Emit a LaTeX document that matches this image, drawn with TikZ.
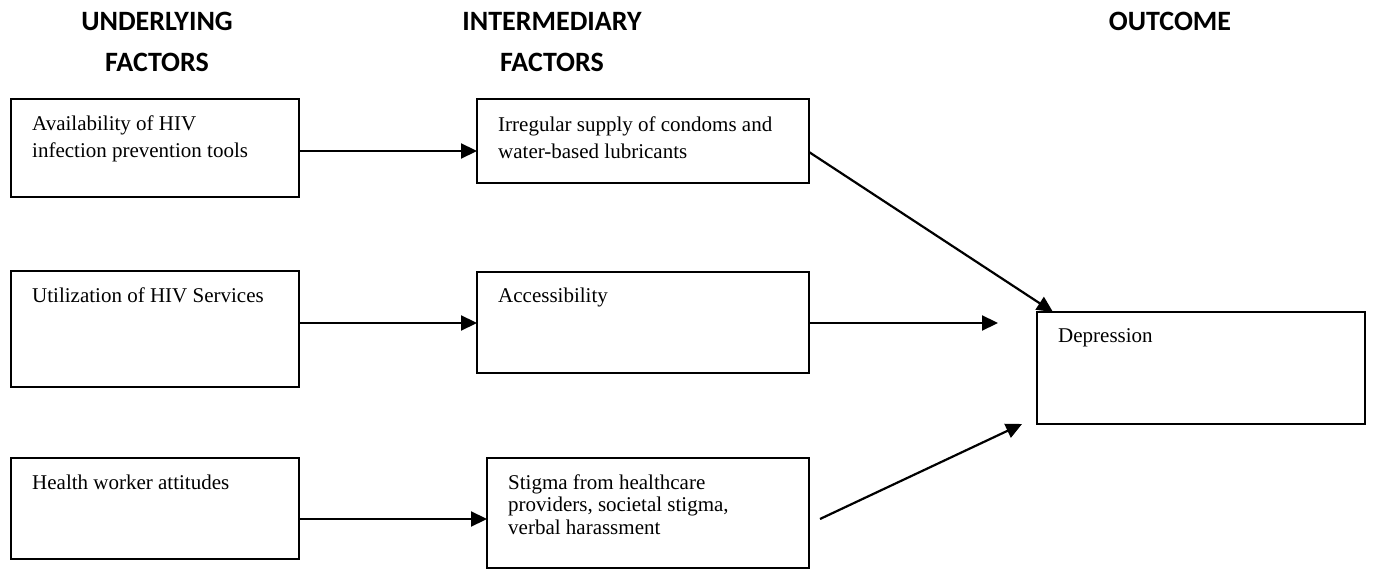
\documentclass[tikz,border=0pt]{standalone}
\usepackage{fontspec}
\setmainfont{Liberation Serif}
\newfontfamily\hdrfont{Carlito}
\usetikzlibrary{arrows.meta,calc}
\begin{document}
\begin{tikzpicture}[x=1pt,y=-1pt,
  box/.style={draw,line width=1.9pt,rectangle,anchor=north west,inner sep=0pt,outer sep=0pt},
  txt/.style={anchor=base west,inner sep=0pt,font=\fontsize{21}{25}\selectfont},
  hdr/.style={anchor=base,inner sep=0pt,font=\hdrfont\bfseries\fontsize{28}{34}\selectfont},
  arr/.style={line width=2.2pt,-{Triangle[length=16pt,width=15pt]}}]
\useasboundingbox (0,0) rectangle (1374,569);

% headers
\node[hdr] (h1a) at (157,31) {UNDERLYING};
\node[hdr] (h1b) at (157,72) {FACTORS};
\node[hdr] (h2a) at (552,31) {INTERMEDIARY};
\node[hdr] (h2b) at (552,72) {FACTORS};
\node[hdr] (h3a) at (1170,31) {OUTCOME};

% boxes
\node[box,minimum width=288pt,minimum height=98pt] (a1) at (11,99) {};
\node[box,minimum width=288pt,minimum height=116pt] (a2) at (11,271) {};
\node[box,minimum width=288pt,minimum height=101pt] (a3) at (11,458) {};
\node[box,minimum width=332pt,minimum height=84pt] (b1) at (477,99) {};
\node[box,minimum width=332pt,minimum height=101pt] (b2) at (477,272) {};
\node[box,minimum width=322pt,minimum height=110pt] (b3) at (487,458) {};
\node[box,minimum width=328pt,minimum height=112pt] (dep) at (1037,312) {};

% texts
\node[txt] (a1t1) at (32,131) {Availability of HIV};
\node[txt] (a1t2) at (32,158) {infection prevention tools};
\node[txt] (b1t1) at (498,132) {Irregular supply of condoms and};
\node[txt] (b1t2) at (498,159) {water-based lubricants};
\node[txt] (a2t1) at (32,303) {Utilization of HIV Services};
\node[txt] (b2t1) at (498,303) {Accessibility};
\node[txt] (a3t1) at (32,489) {Health worker attitudes};
\node[txt] (b3t1) at (508,489) {Stigma from healthcare};
\node[txt] (b3t2) at (508,511) {providers, societal stigma,};
\node[txt] (b3t3) at (508,534) {verbal harassment};
\node[txt] (dept) at (1058,343) {Depression};

% connector levels and free ends
\coordinate (y1) at (0,151);
\coordinate (y2) at (0,323);
\coordinate (y3) at (0,519);
\coordinate (y4) at (0,152);
\coordinate (t4) at ($(dep.north west)+(16,0)$);
\coordinate (t5) at (998,323);
\coordinate (s6) at (820,519);
\coordinate (t6) at (1022,424);

\draw[arr] (a1.east |- y1) -- (b1.west |- y1);
\draw[arr] (a2.east |- y2) -- (b2.west |- y2);
\draw[arr] (a3.east |- y3) -- (b3.west |- y3);
\draw[arr] (b1.east |- y4) -- (t4);
\draw[arr] (b2.east |- y2) -- (t5);
\draw[arr] (s6) -- (t6);
\end{tikzpicture}
\end{document}
